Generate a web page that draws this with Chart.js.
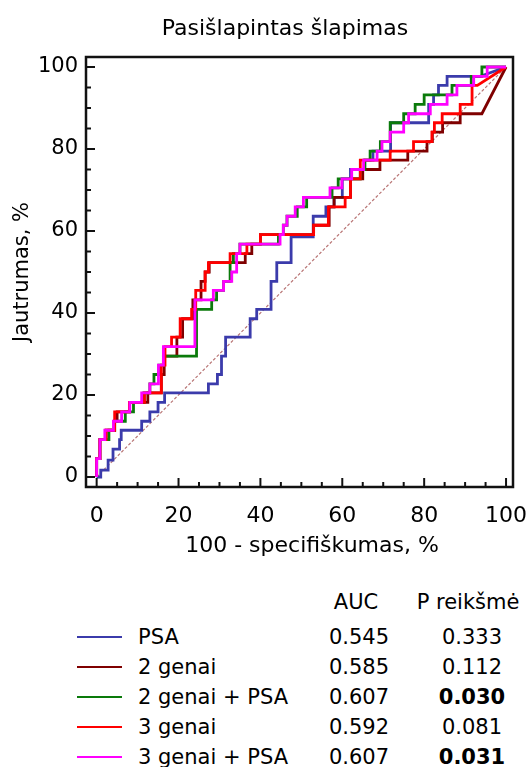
<!DOCTYPE html>
<html>
<head>
<meta charset="utf-8">
<script src="https://cdn.jsdelivr.net/npm/chart.js@4"></script>
<style>
  body { margin: 0; background: #fff; font-family: "DejaVu Sans", sans-serif; }
  #wrap { position: relative; width: 528px; height: 767px; overflow: hidden; }
  #c { position: absolute; left: 0; top: 0; }
  .t { position: absolute; font-size: 21px; line-height: 24px; white-space: nowrap; color: #000; }
  .c { text-align: center; width: 120px; }
  .ln { position: absolute; height: 2px; width: 45px; }
  #title { position: absolute; left: 85px; width: 400px; top: 15px; text-align: center; font-size: 22px; line-height: 26px; white-space: nowrap; }
  #xtitle { position: absolute; left: 112px; width: 400px; top: 532px; text-align: center; font-size: 22px; line-height: 26px; white-space: nowrap; }
</style>
</head>
<body>
<div id="wrap">
  <canvas id="c" width="528" height="560"></canvas>
  <div id="title">Pasišlapintas šlapimas</div>
  <div id="xtitle">100 - specifiškumas, %</div>
  <div id="legend"></div>
</div>
<script>
// axis ticks
const xTicks = [0, 20, 40, 60, 80, 100];
const yTicks = [0, 20, 40, 60, 80, 100];

// ROC curves: 100 - specificity (x) and sensitivity (y), step vertices
const psaX = [0,1,1,2.8,2.8,4,4,5.6,5.6,6,6,11,11,13,13,15,15,16.6,16.6,27.3,27.3,29.5,29.5,30.5,30.5,31.5,31.5,37.5,37.5,39.1,39.1,42.6,42.6,44,44,47.5,47.5,52.9,52.9,56,56,58,58,60,60,62,62,65.5,65.5,67.5,67.5,71.8,71.8,81.1,81.1,82.3,82.3,83.5,83.5,85.6,85.6,93.7,100];
const psaY = [0,0,1.7,1.7,4.1,4.1,6.8,6.8,9.1,9.1,11.4,11.4,13.6,13.6,15.9,15.9,18.2,18.2,20.5,20.5,22.7,22.7,25,25,29.5,29.5,34.1,34.1,38.6,38.6,40.9,40.9,47.7,47.7,52.3,52.3,58.6,58.6,63.6,63.6,65.9,65.9,68.2,68.2,72.7,72.7,75,75,77.3,77.3,79.5,79.5,86.4,86.4,90.9,90.9,93.2,93.2,95.5,95.5,97.7,97.7,100];

const g2X = [0,0,0.8,0.8,2.3,2.3,4.4,4.4,5,5,8,8,12.5,12.5,15.8,15.8,16.5,16.5,19.6,19.6,21,21,23.5,23.5,25.5,25.5,26.5,26.5,27.5,27.5,36.3,36.3,37.9,37.9,40,40,53,53,56.8,56.8,58,58,62,62,65,65,69.2,69.2,76,76,80.7,80.7,82,82,84.5,84.5,88.8,88.8,94.1,100];
const g2Y = [0,4.5,4.5,9.1,9.1,11.4,11.4,13.6,13.6,15.9,15.9,18.2,18.2,20.5,20.5,25,25,29.5,29.5,34.1,34.1,38.6,38.6,43.2,43.2,47.7,47.7,50,50,52.3,52.3,54.5,54.5,56.8,56.8,59.1,59.1,61.4,61.4,65.9,65.9,68.2,68.2,72.7,72.7,75,75,77.3,77.3,79.5,79.5,81.8,81.8,84.1,84.1,86.4,86.4,88.6,88.6,100];

const g2psaX = [0,0,0.8,0.8,3,3,4.4,4.4,7,7,9,9,11.5,11.5,13,13,14,14,15.2,15.2,16.3,16.3,24.4,24.4,28.1,28.1,29.3,29.3,31,31,32.6,32.6,33.4,33.4,35,35,44.4,44.4,45.6,45.6,46.5,46.5,49,49,51.3,51.3,57.5,57.5,59,59,64.4,64.4,65.5,65.5,66.8,66.8,69.3,69.3,71.7,71.7,75,75,77.8,77.8,80,80,86.8,86.8,91.5,91.5,94.1,94.1,100];
const g2psaY = [0,4.5,4.5,9.1,9.1,11.4,11.4,13.6,13.6,15.9,15.9,18.2,18.2,20.5,20.5,22.7,22.7,25,25,27.3,27.3,29.5,29.5,40.9,40.9,43.2,43.2,45.5,45.5,47.7,47.7,52.3,52.3,54.5,54.5,56.8,56.8,59.1,59.1,61.4,61.4,63.6,63.6,65.9,65.9,68.2,68.2,70.5,70.5,72.7,72.7,75,75,77.3,77.3,79.5,79.5,81.8,81.8,86.4,86.4,88.6,88.6,90.9,90.9,93.2,93.2,95.5,95.5,97.7,97.7,100,100];

const g3X = [0,0,0.8,0.8,2.3,2.3,4.4,4.4,8,8,11.7,11.7,15.8,15.8,16.7,16.7,18.3,18.3,20.4,20.4,23.2,23.2,24.2,24.2,26.5,26.5,27.3,27.3,32.6,32.6,36.7,36.7,40,40,53,53,56.6,56.6,60.7,60.7,62,62,64.4,64.4,71.7,71.7,77.4,77.4,81.9,81.9,82.5,82.5,84.4,84.4,88.8,88.8,91.7,91.7,93,100];
const g3Y = [0,4.5,4.5,9.1,9.1,11.4,11.4,15.9,15.9,18.2,18.2,20.5,20.5,27.3,27.3,31.8,31.8,34.1,34.1,38.6,38.6,40.9,40.9,45.5,45.5,50,50,52.3,52.3,54.5,54.5,56.8,56.8,59.1,59.1,61.4,61.4,65.9,65.9,68.2,68.2,72.7,72.7,77.3,77.3,79.5,79.5,81.8,81.8,84.1,84.1,86.4,86.4,88.6,88.6,90.9,90.9,95.5,95.5,100];

const g3psaX = [0,0,0.8,0.8,2,2,4.1,4.1,6.1,6.1,8.1,8.1,11,11,13,13,15.1,15.1,16.3,16.3,24,24,28.5,28.5,31,31,33,33,34.2,34.2,35,35,44.8,44.8,45.6,45.6,46.5,46.5,48.5,48.5,50.5,50.5,57,57,59.9,59.9,62.3,62.3,65.2,65.2,68.5,68.5,69.7,69.7,71.7,71.7,75,75,76.2,76.2,81.5,81.5,85.6,85.6,88,88,92.1,92.1,95.4,95.4,100];
const g3psaY = [0,4.5,4.5,9.1,9.1,11.4,11.4,13.6,13.6,15.9,15.9,18.2,18.2,20.5,20.5,22.7,22.7,27.3,27.3,31.8,31.8,43.2,43.2,45.5,45.5,47.7,47.7,50,50,54.5,54.5,56.8,56.8,59.1,59.1,61.4,61.4,63.6,63.6,65.9,65.9,68.2,68.2,70.5,70.5,72.7,72.7,75,75,77.3,77.3,79.5,79.5,81.8,81.8,84.1,84.1,86.4,86.4,88.6,88.6,90.9,90.9,93.2,93.2,95.5,95.5,97.7,97.7,100,100];

const refX = [0, 100];
const refY = [0, 100];

// table values
const seriesNames = ['PSA', '2 genai', '2 genai + PSA', '3 genai', '3 genai + PSA'];
const aucValues = [0.545, 0.585, 0.607, 0.592, 0.607];
const pValues = [0.333, 0.112, 0.030, 0.081, 0.031];

const seriesX = [psaX, g2X, g2psaX, g3X, g3psaX];
const seriesY = [psaY, g2Y, g2psaY, g3Y, g3psaY];
const colors = ['#3b3bab', '#7f0000', '#0a7a0a', '#ff0000', '#ff00ff'];
const drawOrder = [4, 3, 2, 1, 0]; // lower is drawn on top

const FONT = 'DejaVu Sans';

function pts(xs, ys) {
  return xs.map((v, i) => ({ x: v, y: ys[i] }));
}

const datasets = seriesNames.map((name, i) => ({
  label: name,
  data: pts(seriesX[i], seriesY[i]),
  borderColor: colors[i],
  borderWidth: 2.8,
  order: drawOrder[i]
}));
datasets.push({
  label: 'ref',
  data: pts(refX, refY),
  borderColor: '#b87474',
  borderWidth: 1.2,
  borderDash: [3, 2],
  order: 5
});

const framePlugin = {
  id: 'frame',
  afterDatasetsDraw(chart) {
    const { ctx, chartArea: a, scales: { x, y } } = chart;
    ctx.save();
    ctx.strokeStyle = '#111';
    ctx.lineWidth = 2;
    for (let v = 0; v <= 100; v += 5) {
      const len = v % 20 === 0 ? 9 : 5;
      const px = x.getPixelForValue(v);
      ctx.beginPath();
      ctx.moveTo(px, a.bottom);
      ctx.lineTo(px, a.bottom - len);
      ctx.stroke();
      const py = y.getPixelForValue(v);
      ctx.beginPath();
      ctx.moveTo(a.left, py);
      ctx.lineTo(a.left + len, py);
      ctx.stroke();
    }
    ctx.lineWidth = 2.5;
    ctx.strokeRect(a.left, a.top, a.right - a.left, a.bottom - a.top);
    ctx.restore();
  }
};

new Chart(document.getElementById('c'), {
  type: 'scatter',
  data: { datasets },
  options: {
    responsive: false,
    animation: false,
    devicePixelRatio: 1,
    showLine: true,
    layout: { padding: { left: 0, right: 15, top: 57, bottom: 0 } },
    elements: { point: { radius: 0, hoverRadius: 0 }, line: { tension: 0 } },
    plugins: {
      legend: { display: false },
      tooltip: { enabled: false }
    },
    scales: {
      x: {
        type: 'linear',
        min: -2.6,
        max: 101.7,
        afterBuildTicks: s => { s.ticks = xTicks.map(v => ({ value: v })); },
        afterFit: s => { s.height = 73; s.paddingLeft = 0; s.paddingRight = 0; },
        grid: { display: false, drawTicks: false },
        border: { display: false },
        ticks: { color: '#000', font: { family: FONT, size: 22 }, padding: 16, maxRotation: 0 }
      },
      y: {
        type: 'linear',
        min: -2.44,
        max: 102.44,
        afterBuildTicks: s => { s.ticks = yTicks.map(v => ({ value: v })); },
        afterFit: s => { s.width = 86; s.paddingTop = 0; s.paddingBottom = 0; },
        grid: { display: false, drawTicks: false },
        border: { display: false },
        ticks: { color: '#000', font: { family: FONT, size: 21 }, padding: 8 },
        title: {
          display: true,
          text: 'Jautrumas, %',
          color: '#000',
          font: { family: FONT, size: 21 },
          padding: { top: 10, bottom: 0 }
        }
      }
    }
  },
  plugins: [framePlugin]
});

// table under the chart
const legend = document.getElementById('legend');
function addText(text, left, top, cls, bold) {
  const d = document.createElement('div');
  d.className = 't' + (cls ? ' ' + cls : '');
  d.style.left = left + 'px';
  d.style.top = top + 'px';
  if (bold) d.style.fontWeight = 'bold';
  d.textContent = text;
  legend.appendChild(d);
}
addText('AUC', 296, 590, 'c');
addText('P reikšmė', 408, 590, 'c');
seriesNames.forEach((name, i) => {
  const cy = 637 + i * 30;
  const ln = document.createElement('div');
  ln.className = 'ln';
  ln.style.left = '77px';
  ln.style.top = (cy - 1) + 'px';
  ln.style.background = colors[i];
  legend.appendChild(ln);
  addText(name, 138, cy - 12);
  addText(aucValues[i].toFixed(3), 299, cy - 12, 'c');
  addText(pValues[i].toFixed(3), 412, cy - 12, 'c', pValues[i] < 0.05);
});
</script>
</body>
</html>
